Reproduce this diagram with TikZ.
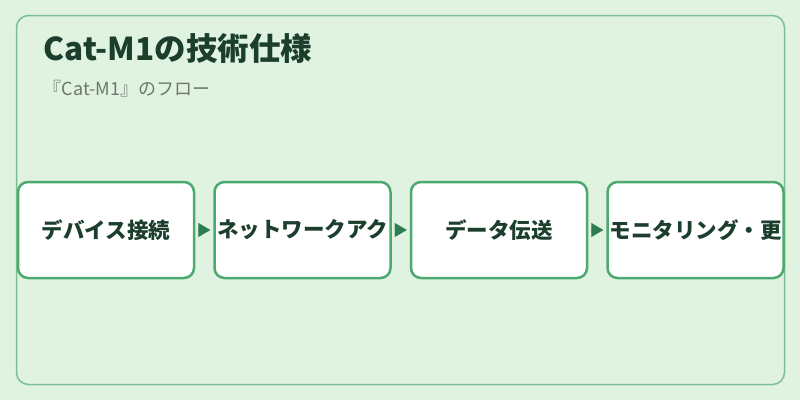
\documentclass[tikz,border=0pt]{standalone}
\usepackage{fontspec}
\setmainfont{Noto Sans CJK JP}
\definecolor{pagegreen}{RGB}{224, 242, 224}
\definecolor{framegreen}{RGB}{126, 190, 148}
\definecolor{boxgreen}{RGB}{76, 170, 110}
\definecolor{arrowgreen}{RGB}{46, 125, 80}
\definecolor{titlegreen}{RGB}{28, 62, 44}
\definecolor{subgray}{RGB}{110, 120, 112}
\usetikzlibrary{arrows.meta,positioning}

\begin{document}
\begin{tikzpicture}[x=1pt, y=-1pt, node distance=18pt, thick,
    every node/.style={font=\fontsize{18}{22}\selectfont},
    stepbox/.style={rectangle, rounded corners=10pt, draw=boxgreen, line width=2.5pt, fill=white,
        minimum width=176pt, minimum height=96pt, inner sep=0pt, text=titlegreen, font=\fontsize{21.5}{24}\selectfont\bfseries},
    flow/.style={-{Triangle[length=12pt, width=14pt]}, draw=arrowgreen, fill=arrowgreen, line width=0.1pt,
        shorten <=3pt, shorten >=3pt}]
    \useasboundingbox (0,0) rectangle (800,400);
    \fill[pagegreen] (0,0) rectangle (800,400);
    \draw[framegreen, line width=1.5pt, rounded corners=12pt] (16.5,15.5) rectangle (784.5,384.5);
    \node[anchor=base west, text=titlegreen, font=\fontsize{31.5}{36}\selectfont\bfseries] (title) at (40,60) {Cat-M1の技術仕様};
    \node[anchor=base west, text=subgray] (sub) at (40,95) {『Cat-M1』のフロー};

    \node[stepbox] (s1) at (106,230) {デバイス接続};
    \node[stepbox, right=of s1] (s2) {ネットワークアク};
    \node[stepbox, right=of s2] (s3) {データ伝送};
    \node[stepbox, right=of s3] (s4) {モニタリング・更};

    \draw[flow] (s1) -- (s2);
    \draw[flow] (s2) -- (s3);
    \draw[flow] (s3) -- (s4);
\end{tikzpicture}
\end{document}
